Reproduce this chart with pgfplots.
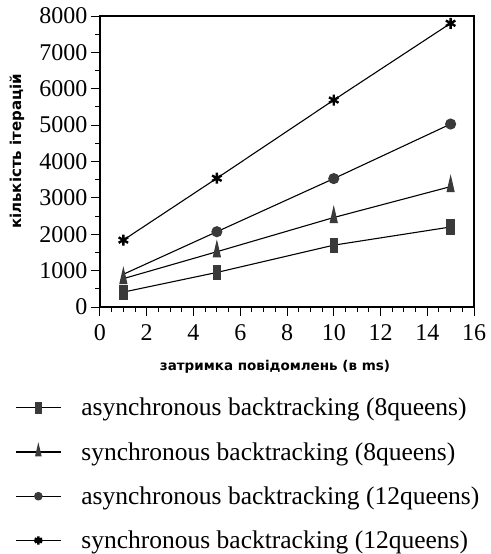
\documentclass[border=0pt]{standalone}
\usepackage{fontspec}
\setmainfont{Liberation Serif}
\newfontfamily\labelfont{DejaVu Sans}
\usepackage{pgfplots}
\pgfplotsset{compat=1.18}
\definecolor{mk}{HTML}{3A3A3A}
\begin{document}
\begin{tikzpicture}
\begin{axis}[
  name=ax,
  scale only axis, width=374pt, height=291pt,
  xmin=0, xmax=16, ymin=0, ymax=8000,
  xtick={0,2,...,16}, ytick={0,1000,...,8000},
  minor x tick num=3, minor y tick num=1,
  tick align=outside, tick pos=left,
  major tick length=9pt, minor tick length=5pt,
  axis line style={line width=1.3pt},
  every tick/.style={line width=1pt, black},
  scaled ticks=false,
  /pgf/number format/1000 sep={},
  /pgf/number format/assume math mode=true,
  ticklabel style={font=\fontsize{24}{24}\selectfont},
  xticklabel style={yshift=-5pt},
  xlabel={затримка повідомлень (в ms)},
  ylabel={кількість ітерацій},
  label style={font=\labelfont\bfseries\fontsize{13.5}{15}\selectfont},
  xlabel style={at={(axis description cs:0.468,-0.206)}, anchor=center},
  ylabel style={at={(axis description cs:-0.222,0.535)}, anchor=center,
    font=\labelfont\bfseries\fontsize{15}{17}\selectfont},
  legend style={at={(axis description cs:-0.235,-0.299)}, anchor=north west,
    draw=none, fill=none, font=\fontsize{25.5}{25.5}\selectfont, row sep=21pt,
    /tikz/every odd column/.append style={column sep=18pt}},
  legend cell align=left,
  legend image code/.code={\draw[#1,mark indices={2},/tikz/every mark/.append style={scale=0.75}] plot coordinates {(0pt,0pt) (22.5pt,0pt) (45pt,0pt)};},
]
\addplot[black, line width=1.1pt, mark=square*, mark size=7pt,
  mark options={xscale=0.52, fill=mk, draw=mk}]
  coordinates {(1,410) (5,950) (10,1700) (15,2200)};
\addlegendentry{asynchronous backtracking (8queens)}
\addplot[black, line width=1.1pt, mark=triangle*, mark size=10pt,
  mark options={xscale=0.4, fill=mk, draw=mk}]
  coordinates {(1,780) (5,1520) (10,2460) (15,3310)};
\addlegendentry{synchronous backtracking (8queens)}
\addplot[black, line width=1.1pt, mark=*, mark size=5pt, mark indices={2,3,4},
  mark options={fill=mk, draw=mk}]
  coordinates {(1,900) (5,2070) (10,3530) (15,5030)};
\addlegendentry{asynchronous backtracking (12queens)}
\addplot[black, line width=1.1pt, mark=asterisk, mark size=5.5pt,
  mark options={line width=2.4pt, black}]
  coordinates {(1,1840) (5,3540) (10,5690) (15,7800)};
\addlegendentry{synchronous backtracking (12queens)}
\end{axis}
\path (ax.south west) ++(-100pt,-247pt) rectangle ++(490pt,554pt);
\end{tikzpicture}
\end{document}
